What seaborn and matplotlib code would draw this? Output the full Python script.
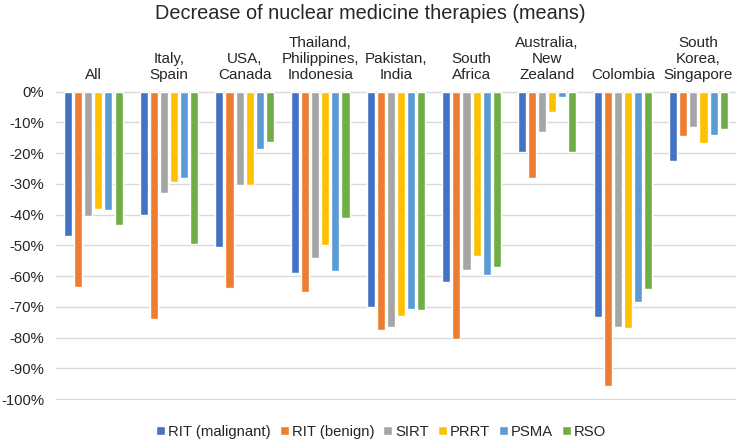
import matplotlib
matplotlib.use("Agg")
import matplotlib.pyplot as plt
import seaborn as sns
import pandas as pd
from matplotlib.ticker import FuncFormatter

regions = ["All", "Italy,\nSpain", "USA,\nCanada", "Thailand,\nPhilippines,\nIndonesia",
           "Pakistan,\nIndia", "South\nAfrica", "Australia,\nNew\nZealand", "Colombia",
           "South\nKorea,\nSingapore"]
therapies = ["RIT (malignant)", "RIT (benign)", "SIRT", "PRRT", "PSMA", "RSO"]

rit_malignant = [-47, -40, -50.5, -59, -70, -62, -19.5, -73.3, -22.5]
rit_benign = [-63.5, -74, -64, -65.2, -77.4, -80.5, -28, -95.8, -14.5]
sirt = [-40.3, -33, -30.5, -54, -76.4, -57.9, -13.2, -76.6, -11.6]
prrt = [-38, -29.5, -30.5, -50, -73, -53.6, -6.5, -76.8, -16.6]
psma = [-38.5, -28, -18.5, -58.3, -70.7, -59.6, -1.7, -68.4, -14.2]
rso = [-43.5, -49.5, -16.5, -41, -71.1, -57.1, -19.5, -64.1, -12]

colors = ["#4472C4", "#ED7D31", "#A5A5A5", "#FFC000", "#5B9BD5", "#70AD47"]

rows = []
for name, vals in zip(therapies, [rit_malignant, rit_benign, sirt, prrt, psma, rso]):
    for reg, v in zip(regions, vals):
        rows.append({"region": reg, "therapy": name, "value": v})
df = pd.DataFrame(rows)

sns.set_style("white")
plt.rcParams["font.family"] = ["Liberation Sans", "DejaVu Sans"]

fig, ax = plt.subplots(figsize=(7.4, 4.43), dpi=100)
fig.subplots_adjust(left=0.075, right=0.995, top=0.795, bottom=0.097)

sns.barplot(data=df, x="region", y="value", hue="therapy", order=regions,
            hue_order=therapies, palette=colors, width=0.8, gap=0.2,
            saturation=1, ax=ax, legend=True)

ax.set_ylim(-100.3, 0.3)
ax.set_yticks(range(-100, 1, 10))
ax.yaxis.set_major_formatter(FuncFormatter(lambda v, p: f"{int(round(v))}%"))
ax.grid(axis="y", color="#D9D9D9", linewidth=1)
ax.set_axisbelow(True)
for s in ax.spines.values():
    s.set_visible(False)

ax.xaxis.tick_top()
ax.tick_params(axis="x", length=0, labelsize=11, pad=6)
ax.tick_params(axis="y", length=0, labelsize=10.7, pad=8)
ax.set_xlabel("")
ax.set_ylabel("")

ax.legend(loc="center", bbox_to_anchor=(0.515, 0.025), bbox_transform=fig.transFigure,
          ncol=6, frameon=False, fontsize=10.7, handlelength=0.6, handleheight=0.6,
          handletextpad=0.2, columnspacing=0.6)

fig.suptitle("Decrease of nuclear medicine therapies (means)", y=0.99, fontsize=14.3)

plt.savefig("out.png")
